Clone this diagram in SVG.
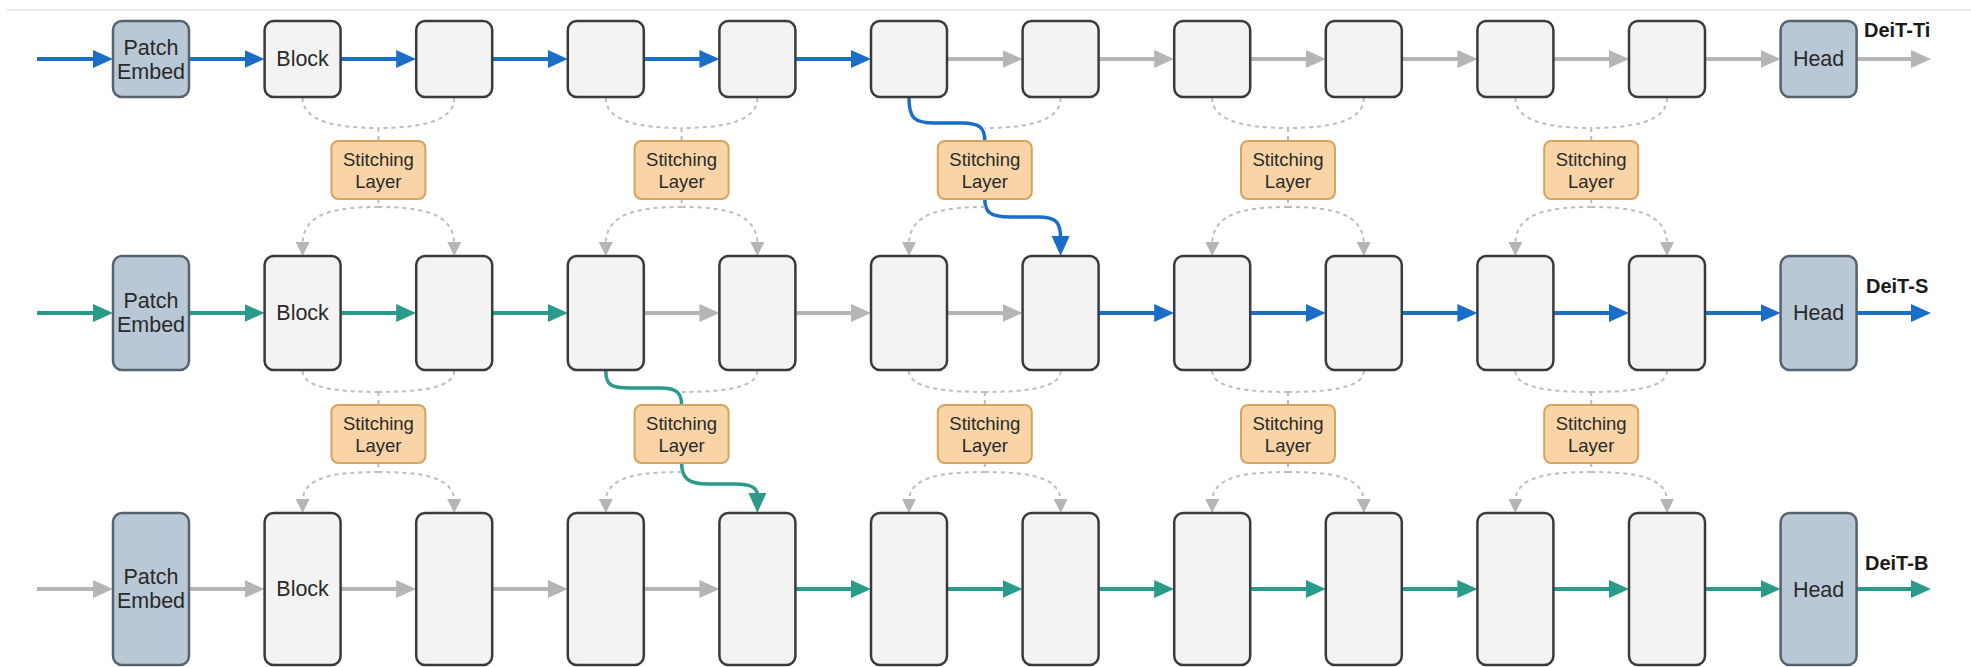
<svg xmlns="http://www.w3.org/2000/svg" width="1971" height="667" viewBox="0 0 1971 667">
<style>
.blk{fill:#f3f3f3;stroke:#3a3a3a;stroke-width:2.5}
.emb{fill:#b9c8d6;stroke:#56636e;stroke-width:2.5}
.st{fill:#f8d4a6;stroke:#d6a45e;stroke-width:2}
.t{font-family:"Liberation Sans",Arial,sans-serif;font-size:21.5px;fill:#2a2a2a;text-anchor:middle}
.ts{font-family:"Liberation Sans",Arial,sans-serif;font-size:18.5px;fill:#2a2a2a;text-anchor:middle}
.lb{font-family:"Liberation Sans",Arial,sans-serif;font-size:20px;font-weight:bold;fill:#1a1a1a}
.hb{fill:none;stroke:#1b6ec8;stroke-width:4;marker-end:url(#mb)}
.ht{fill:none;stroke:#2a9b8b;stroke-width:4;marker-end:url(#mt)}
.hg{fill:none;stroke:#b5b5b5;stroke-width:4;marker-end:url(#mg)}
.cb{fill:none;stroke:#1b6ec8;stroke-width:3.5}
.ct{fill:none;stroke:#2a9b8b;stroke-width:3.5}
.d{fill:none;stroke:#b8bdc6;stroke-width:2;stroke-dasharray:4 4}
.da{fill:none;stroke:#b8bdc6;stroke-width:2;stroke-dasharray:4 4;marker-end:url(#ms)}
</style>
<defs>
<marker id="mb" markerUnits="userSpaceOnUse" markerWidth="20" markerHeight="18" refX="2" refY="9" orient="auto"><path d="M0,0 L20,9 L0,18 z" fill="#1b6ec8"/></marker>
<marker id="mt" markerUnits="userSpaceOnUse" markerWidth="20" markerHeight="18" refX="2" refY="9" orient="auto"><path d="M0,0 L20,9 L0,18 z" fill="#2a9b8b"/></marker>
<marker id="mg" markerUnits="userSpaceOnUse" markerWidth="20" markerHeight="18" refX="2" refY="9" orient="auto"><path d="M0,0 L20,9 L0,18 z" fill="#b5b5b5"/></marker>
<marker id="ms" markerUnits="userSpaceOnUse" markerWidth="14" markerHeight="14" refX="2" refY="7" orient="auto"><path d="M0,0 L14,7 L0,14 z" fill="#b5b5b5"/></marker>
</defs>
<rect width="1971" height="667" fill="#ffffff"/>
<line x1="7" y1="10" x2="1971" y2="10" stroke="#e4e4e4" stroke-width="1.5"/>

<g id="connectors">
<!-- row 1 horizontal -->
<path class="hb" d="M37 59 H95"/>
<path class="hb" d="M189 59 H246.6"/>
<path class="hb" d="M340.6 59 H398.2"/>
<path class="hb" d="M492.2 59 H549.8"/>
<path class="hb" d="M643.8 59 H701.4"/>
<path class="hb" d="M795.4 59 H853"/>
<path class="hg" d="M947 59 H1004.6"/>
<path class="hg" d="M1098.6 59 H1156.2"/>
<path class="hg" d="M1250.2 59 H1307.8"/>
<path class="hg" d="M1401.8 59 H1459.4"/>
<path class="hg" d="M1553.4 59 H1611"/>
<path class="hg" d="M1705 59 H1762.6"/>
<path class="hg" d="M1856.6 59 H1913"/>
<!-- row 2 horizontal -->
<path class="ht" d="M37 313 H95"/>
<path class="ht" d="M189 313 H246.6"/>
<path class="ht" d="M340.6 313 H398.2"/>
<path class="ht" d="M492.2 313 H549.8"/>
<path class="hg" d="M643.8 313 H701.4"/>
<path class="hg" d="M795.4 313 H853"/>
<path class="hg" d="M947 313 H1004.6"/>
<path class="hb" d="M1098.6 313 H1156.2"/>
<path class="hb" d="M1250.2 313 H1307.8"/>
<path class="hb" d="M1401.8 313 H1459.4"/>
<path class="hb" d="M1553.4 313 H1611"/>
<path class="hb" d="M1705 313 H1762.6"/>
<path class="hb" d="M1856.6 313 H1913"/>
<!-- row 3 horizontal -->
<path class="hg" d="M37 589 H95"/>
<path class="hg" d="M189 589 H246.6"/>
<path class="hg" d="M340.6 589 H398.2"/>
<path class="hg" d="M492.2 589 H549.8"/>
<path class="hg" d="M643.8 589 H701.4"/>
<path class="ht" d="M795.4 589 H853"/>
<path class="ht" d="M947 589 H1004.6"/>
<path class="ht" d="M1098.6 589 H1156.2"/>
<path class="ht" d="M1250.2 589 H1307.8"/>
<path class="ht" d="M1401.8 589 H1459.4"/>
<path class="ht" d="M1553.4 589 H1611"/>
<path class="ht" d="M1705 589 H1762.6"/>
<path class="ht" d="M1856.6 589 H1913"/>

<!-- stitch 1 -->
<path class="d" d="M302.6 98 C302.6 122 338.4 128 378.4 128"/>
<path class="d" d="M454.2 98 C454.2 122 418.4 128 378.4 128"/>
<path class="d" d="M378.4 128 V141"/>
<path class="d" d="M378.4 199 V207"/>
<path class="da" d="M378.4 207 C338.4 207 302.6 212 302.6 244"/>
<path class="da" d="M378.4 207 C418.4 207 454.2 212 454.2 244"/>
<path class="d" d="M302.6 371 C302.6 388 338.4 392 378.4 392"/>
<path class="d" d="M454.2 371 C454.2 388 418.4 392 378.4 392"/>
<path class="d" d="M378.4 392 V405"/>
<path class="d" d="M378.4 463 V472"/>
<path class="da" d="M378.4 472 C338.4 472 302.6 476 302.6 501"/>
<path class="da" d="M378.4 472 C418.4 472 454.2 476 454.2 501"/>
<!-- stitch 2 -->
<path class="d" d="M605.8 98 C605.8 122 641.6 128 681.6 128"/>
<path class="d" d="M757.4 98 C757.4 122 721.6 128 681.6 128"/>
<path class="d" d="M681.6 128 V141"/>
<path class="d" d="M681.6 199 V207"/>
<path class="da" d="M681.6 207 C641.6 207 605.8 212 605.8 244"/>
<path class="da" d="M681.6 207 C721.6 207 757.4 212 757.4 244"/>
<path class="ct" d="M605.8 371 C605.8 385 611 388 630 388 L660 388 C677 388 681.6 393 681.6 405"/>
<path class="d" d="M757.4 371 C757.4 388 721.6 392 681.6 392"/>
<path class="ct" d="M681.6 463 C681.6 478 688 484 708 484 L735 484 C752 484 757.4 488 757.4 495" marker-end="url(#mt)"/>
<path class="da" d="M681.6 472 C641.6 472 605.8 476 605.8 501"/>
<!-- stitch 3 -->
<path class="cb" d="M909 98 C909 118 914 123 935 123 L962 123 C980 123 984.8 128 984.8 141"/>
<path class="d" d="M1060.6 98 C1060.6 122 1024.8 128 984.8 128"/>
<path class="cb" d="M984.8 199 C984.8 212 990 217 1010 217 L1038 217 C1056 217 1060.6 222 1060.6 238" marker-end="url(#mb)"/>
<path class="da" d="M984.8 207 C944.8 207 909 212 909 244"/>
<path class="d" d="M909 371 C909 388 944.8 392 984.8 392"/>
<path class="d" d="M1060.6 371 C1060.6 388 1024.8 392 984.8 392"/>
<path class="d" d="M984.8 392 V405"/>
<path class="d" d="M984.8 463 V472"/>
<path class="da" d="M984.8 472 C944.8 472 909 476 909 501"/>
<path class="da" d="M984.8 472 C1024.8 472 1060.6 476 1060.6 501"/>
<!-- stitch 4 -->
<path class="d" d="M1212.2 98 C1212.2 122 1248 128 1288 128"/>
<path class="d" d="M1363.8 98 C1363.8 122 1328 128 1288 128"/>
<path class="d" d="M1288 128 V141"/>
<path class="d" d="M1288 199 V207"/>
<path class="da" d="M1288 207 C1248 207 1212.2 212 1212.2 244"/>
<path class="da" d="M1288 207 C1328 207 1363.8 212 1363.8 244"/>
<path class="d" d="M1212.2 371 C1212.2 388 1248 392 1288 392"/>
<path class="d" d="M1363.8 371 C1363.8 388 1328 392 1288 392"/>
<path class="d" d="M1288 392 V405"/>
<path class="d" d="M1288 463 V472"/>
<path class="da" d="M1288 472 C1248 472 1212.2 476 1212.2 501"/>
<path class="da" d="M1288 472 C1328 472 1363.8 476 1363.8 501"/>
<!-- stitch 5 -->
<path class="d" d="M1515.4 98 C1515.4 122 1551.2 128 1591.2 128"/>
<path class="d" d="M1667 98 C1667 122 1631.2 128 1591.2 128"/>
<path class="d" d="M1591.2 128 V141"/>
<path class="d" d="M1591.2 199 V207"/>
<path class="da" d="M1591.2 207 C1551.2 207 1515.4 212 1515.4 244"/>
<path class="da" d="M1591.2 207 C1631.2 207 1667 212 1667 244"/>
<path class="d" d="M1515.4 371 C1515.4 388 1551.2 392 1591.2 392"/>
<path class="d" d="M1667 371 C1667 388 1631.2 392 1591.2 392"/>
<path class="d" d="M1591.2 392 V405"/>
<path class="d" d="M1591.2 463 V472"/>
<path class="da" d="M1591.2 472 C1551.2 472 1515.4 476 1515.4 501"/>
<path class="da" d="M1591.2 472 C1631.2 472 1667 476 1667 501"/>
</g>

<!-- Row 1: DeiT-Ti -->
<g id="r1-embed"><rect class="emb" x="113" y="21" width="76" height="76" rx="9"/><text class="t" x="151" y="55">Patch</text><text class="t" x="151" y="79">Embed</text></g>
<g id="r1-b1"><rect class="blk" x="264.6" y="21" width="76" height="76" rx="9"/><text class="t" x="302.6" y="66">Block</text></g>
<g id="r1-b2"><rect class="blk" x="416.2" y="21" width="76" height="76" rx="9"/></g>
<g id="r1-b3"><rect class="blk" x="567.8" y="21" width="76" height="76" rx="9"/></g>
<g id="r1-b4"><rect class="blk" x="719.4" y="21" width="76" height="76" rx="9"/></g>
<g id="r1-b5"><rect class="blk" x="871" y="21" width="76" height="76" rx="9"/></g>
<g id="r1-b6"><rect class="blk" x="1022.6" y="21" width="76" height="76" rx="9"/></g>
<g id="r1-b7"><rect class="blk" x="1174.2" y="21" width="76" height="76" rx="9"/></g>
<g id="r1-b8"><rect class="blk" x="1325.8" y="21" width="76" height="76" rx="9"/></g>
<g id="r1-b9"><rect class="blk" x="1477.4" y="21" width="76" height="76" rx="9"/></g>
<g id="r1-b10"><rect class="blk" x="1629" y="21" width="76" height="76" rx="9"/></g>
<g id="r1-head"><rect class="emb" x="1780.6" y="21" width="76" height="76" rx="9"/><text class="t" x="1818.6" y="66">Head</text></g>
<g id="r1-label"><text class="lb" x="1864" y="37">DeiT-Ti</text></g>

<!-- Stitching layers between row 1 and 2 -->
<g id="s12-1"><rect class="st" x="331.4" y="141" width="94" height="58" rx="7"/><text class="ts" x="378.4" y="166">Stitching</text><text class="ts" x="378.4" y="188">Layer</text></g>
<g id="s12-2"><rect class="st" x="634.6" y="141" width="94" height="58" rx="7"/><text class="ts" x="681.6" y="166">Stitching</text><text class="ts" x="681.6" y="188">Layer</text></g>
<g id="s12-3"><rect class="st" x="937.8" y="141" width="94" height="58" rx="7"/><text class="ts" x="984.8" y="166">Stitching</text><text class="ts" x="984.8" y="188">Layer</text></g>
<g id="s12-4"><rect class="st" x="1241" y="141" width="94" height="58" rx="7"/><text class="ts" x="1288" y="166">Stitching</text><text class="ts" x="1288" y="188">Layer</text></g>
<g id="s12-5"><rect class="st" x="1544.2" y="141" width="94" height="58" rx="7"/><text class="ts" x="1591.2" y="166">Stitching</text><text class="ts" x="1591.2" y="188">Layer</text></g>

<!-- Row 2: DeiT-S -->
<g id="r2-embed"><rect class="emb" x="113" y="256" width="76" height="114" rx="9"/><text class="t" x="151" y="308">Patch</text><text class="t" x="151" y="332">Embed</text></g>
<g id="r2-b1"><rect class="blk" x="264.6" y="256" width="76" height="114" rx="9"/><text class="t" x="302.6" y="320">Block</text></g>
<g id="r2-b2"><rect class="blk" x="416.2" y="256" width="76" height="114" rx="9"/></g>
<g id="r2-b3"><rect class="blk" x="567.8" y="256" width="76" height="114" rx="9"/></g>
<g id="r2-b4"><rect class="blk" x="719.4" y="256" width="76" height="114" rx="9"/></g>
<g id="r2-b5"><rect class="blk" x="871" y="256" width="76" height="114" rx="9"/></g>
<g id="r2-b6"><rect class="blk" x="1022.6" y="256" width="76" height="114" rx="9"/></g>
<g id="r2-b7"><rect class="blk" x="1174.2" y="256" width="76" height="114" rx="9"/></g>
<g id="r2-b8"><rect class="blk" x="1325.8" y="256" width="76" height="114" rx="9"/></g>
<g id="r2-b9"><rect class="blk" x="1477.4" y="256" width="76" height="114" rx="9"/></g>
<g id="r2-b10"><rect class="blk" x="1629" y="256" width="76" height="114" rx="9"/></g>
<g id="r2-head"><rect class="emb" x="1780.6" y="256" width="76" height="114" rx="9"/><text class="t" x="1818.6" y="320">Head</text></g>
<g id="r2-label"><text class="lb" x="1866" y="293">DeiT-S</text></g>

<!-- Stitching layers between row 2 and 3 -->
<g id="s23-1"><rect class="st" x="331.4" y="405" width="94" height="58" rx="7"/><text class="ts" x="378.4" y="430">Stitching</text><text class="ts" x="378.4" y="452">Layer</text></g>
<g id="s23-2"><rect class="st" x="634.6" y="405" width="94" height="58" rx="7"/><text class="ts" x="681.6" y="430">Stitching</text><text class="ts" x="681.6" y="452">Layer</text></g>
<g id="s23-3"><rect class="st" x="937.8" y="405" width="94" height="58" rx="7"/><text class="ts" x="984.8" y="430">Stitching</text><text class="ts" x="984.8" y="452">Layer</text></g>
<g id="s23-4"><rect class="st" x="1241" y="405" width="94" height="58" rx="7"/><text class="ts" x="1288" y="430">Stitching</text><text class="ts" x="1288" y="452">Layer</text></g>
<g id="s23-5"><rect class="st" x="1544.2" y="405" width="94" height="58" rx="7"/><text class="ts" x="1591.2" y="430">Stitching</text><text class="ts" x="1591.2" y="452">Layer</text></g>

<!-- Row 3: DeiT-B -->
<g id="r3-embed"><rect class="emb" x="113" y="513" width="76" height="152" rx="9"/><text class="t" x="151" y="584">Patch</text><text class="t" x="151" y="608">Embed</text></g>
<g id="r3-b1"><rect class="blk" x="264.6" y="513" width="76" height="152" rx="9"/><text class="t" x="302.6" y="596">Block</text></g>
<g id="r3-b2"><rect class="blk" x="416.2" y="513" width="76" height="152" rx="9"/></g>
<g id="r3-b3"><rect class="blk" x="567.8" y="513" width="76" height="152" rx="9"/></g>
<g id="r3-b4"><rect class="blk" x="719.4" y="513" width="76" height="152" rx="9"/></g>
<g id="r3-b5"><rect class="blk" x="871" y="513" width="76" height="152" rx="9"/></g>
<g id="r3-b6"><rect class="blk" x="1022.6" y="513" width="76" height="152" rx="9"/></g>
<g id="r3-b7"><rect class="blk" x="1174.2" y="513" width="76" height="152" rx="9"/></g>
<g id="r3-b8"><rect class="blk" x="1325.8" y="513" width="76" height="152" rx="9"/></g>
<g id="r3-b9"><rect class="blk" x="1477.4" y="513" width="76" height="152" rx="9"/></g>
<g id="r3-b10"><rect class="blk" x="1629" y="513" width="76" height="152" rx="9"/></g>
<g id="r3-head"><rect class="emb" x="1780.6" y="513" width="76" height="152" rx="9"/><text class="t" x="1818.6" y="597">Head</text></g>
<g id="r3-label"><text class="lb" x="1865" y="570">DeiT-B</text></g>
</svg>
